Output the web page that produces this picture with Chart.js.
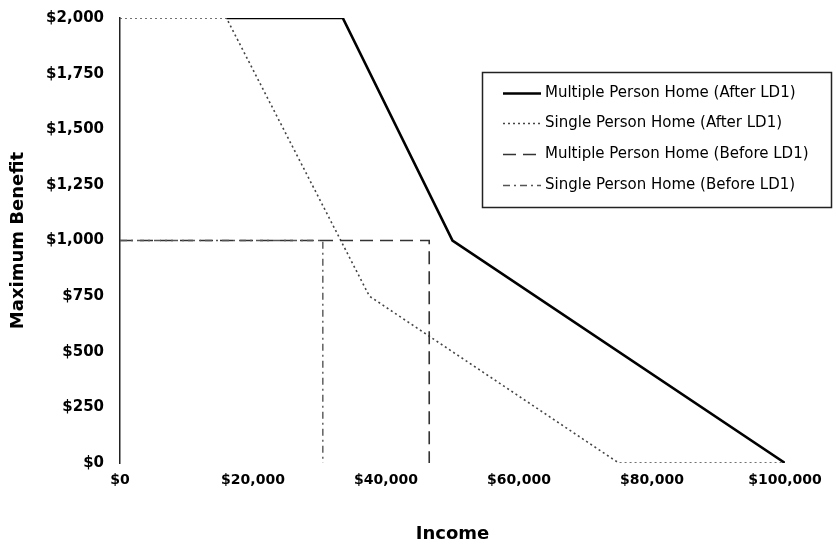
<!DOCTYPE html>
<html><head><meta charset="utf-8">
<script src="https://cdn.jsdelivr.net/npm/chart.js@4/dist/chart.umd.min.js"></script>
<style>html,body{margin:0;padding:0;background:#fff;}#wrap{width:836px;height:546px;}</style>
</head><body><div id="wrap"><canvas id="c" width="836" height="546"></canvas></div>
<script>
const seriesLabels = [
  'Multiple Person Home (After LD1)',
  'Single Person Home (After LD1)',
  'Multiple Person Home (Before LD1)',
  'Single Person Home (Before LD1)'
];
const multiAfterIncome = [16000, 33500, 50000, 100000];
const multiAfterBenefit = [2000, 2000, 1000, 0];
const singleAfterIncome = [0, 16000, 37500, 75000, 100000];
const singleAfterBenefit = [2000, 2000, 750, 0, 0];
const multiBeforeIncome = [0, 46500, 46500];
const multiBeforeBenefit = [1000, 1000, 0];
const singleBeforeIncome = [0, 30500, 30500];
const singleBeforeBenefit = [1000, 1000, 0];
const xTickValues = [0, 20000, 40000, 60000, 80000, 100000];
const xTickLabels = ['$0', '$20,000', '$40,000', '$60,000', '$80,000', '$100,000'];
const yTickValues = [0, 250, 500, 750, 1000, 1250, 1500, 1750, 2000];
const yTickLabels = ['$0', '$250', '$500', '$750', '$1,000', '$1,250', '$1,500', '$1,750', '$2,000'];

function pts(xs, ys) { return xs.map((x, i) => ({x: x, y: ys[i]})); }

const styles = [
  {color: '#000000', width: 2.6, dash: []},
  {color: '#444444', width: 1.6, dash: [2, 3]},
  {color: '#333333', width: 1.6, dash: [13, 7]},
  {color: '#555555', width: 1.4, dash: [7, 4, 2, 4]}
];
const seriesData = [
  pts(multiAfterIncome, multiAfterBenefit),
  pts(singleAfterIncome, singleAfterBenefit),
  pts(multiBeforeIncome, multiBeforeBenefit),
  pts(singleBeforeIncome, singleBeforeBenefit)
];

const boxLegend = {
  id: 'boxLegend',
  afterDraw(chart) {
    const ctx = chart.ctx;
    ctx.save();
    ctx.strokeStyle = '#222';
    ctx.lineWidth = 1.5;
    ctx.setLineDash([]);
    ctx.strokeRect(482.5, 72.5, 349, 135);
    ctx.font = '15px "DejaVu Sans"';
    ctx.fillStyle = '#000';
    ctx.textBaseline = 'middle';
    const rows = [93, 123, 154, 185];
    chart.data.datasets.forEach((ds, i) => {
      const y = rows[i];
      ctx.beginPath();
      ctx.strokeStyle = ds.borderColor;
      ctx.lineWidth = ds.borderWidth;
      ctx.setLineDash(ds.borderDash || []);
      ctx.moveTo(503, y + 0.5);
      ctx.lineTo(541, y + 0.5);
      ctx.stroke();
      ctx.fillText(ds.label, 545, y);
    });
    ctx.restore();
  }
};

new Chart(document.getElementById('c'), {
  type: 'scatter',
  data: {
    datasets: seriesLabels.map((lab, i) => ({
      label: lab,
      data: seriesData[i],
      showLine: true,
      borderColor: styles[i].color,
      backgroundColor: styles[i].color,
      borderWidth: styles[i].width,
      borderDash: styles[i].dash,
      pointRadius: 0,
      tension: 0,
      fill: false,
      order: 4 - i
    }))
  },
  options: {
    responsive: false,
    animation: false,
    devicePixelRatio: 1,
    layout: {padding: {left: 0, right: 51, top: 18, bottom: 0}},
    plugins: {legend: {display: false}, tooltip: {enabled: false}},
    scales: {
      x: {
        type: 'linear', min: 0, max: 100000,
        afterBuildTicks: s => { s.ticks = xTickValues.map(v => ({value: v})); },
        afterFit: s => { s.height = 83; },
        grid: {display: false, drawTicks: false},
        border: {display: false},
        ticks: {
          padding: 9, color: '#000', maxRotation: 0, autoSkip: false,
          font: {family: 'DejaVu Sans', size: 14, weight: 'bold'},
          callback: v => xTickLabels[xTickValues.indexOf(v)]
        },
        title: {display: true, text: 'Income', color: '#000',
          font: {family: 'DejaVu Sans', size: 18, weight: 'bold'}, padding: {top: 4, bottom: 1}}
      },
      y: {
        type: 'linear', min: 0, max: 2000,
        afterBuildTicks: s => { s.ticks = yTickValues.map(v => ({value: v})); },
        afterFit: s => { s.width = 120; s.paddingTop = 0; s.paddingBottom = 0; },
        grid: {display: false, drawTicks: false},
        border: {display: true, color: '#222', width: 1.5},
        ticks: {
          padding: 16, color: '#000',
          font: {family: 'DejaVu Sans', size: 15, weight: 'bold'},
          callback: v => yTickLabels[yTickValues.indexOf(v)]
        },
        title: {display: true, text: 'Maximum Benefit', color: '#000',
          font: {family: 'DejaVu Sans', size: 18, weight: 'bold'}, padding: {top: 8, bottom: 0}}
      }
    }
  },
  plugins: [boxLegend]
});
</script>
</body></html>
